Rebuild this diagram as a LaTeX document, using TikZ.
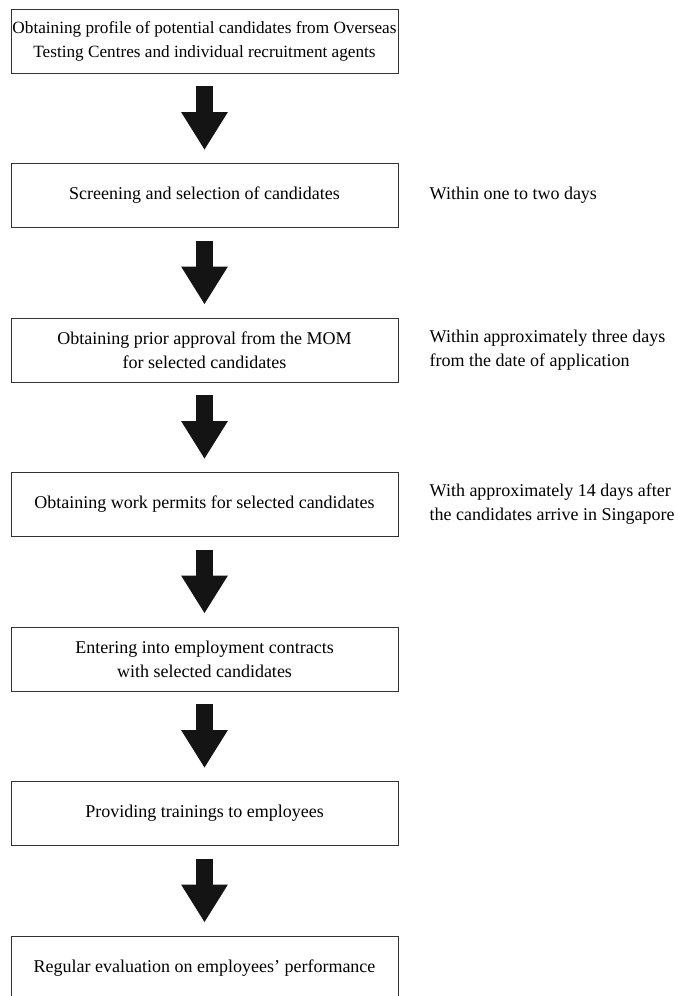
\documentclass[tikz,border=0pt]{standalone}
\usepackage{fontspec}
\setmainfont{Liberation Serif}
\usetikzlibrary{arrows.meta,positioning}

\begin{document}
\begin{tikzpicture}[x=0.75pt,y=-0.75pt,
  stepbox/.style={draw=black!80,line width=0.7pt,minimum width=290.25pt,minimum height=48pt,
    inner sep=0pt,align=center,font=\fontsize{13.5}{18}\selectfont},
  note/.style={anchor=west,inner sep=0pt,align=left,font=\fontsize{13.5}{18}\selectfont},
  bigarrow/.style={draw=black!92,line width=12.75pt,-{Triangle[width=33pt,length=28.5pt]},
    shorten <=9.75pt,shorten >=9.75pt}]
\useasboundingbox (0,0) rectangle (678,996);
\clip (0,0) rectangle (678,996);

%Step 1
\node[stepbox,font=\fontsize{12.9}{18}\selectfont] (step1) at (204.5,41) {Obtaining profile of potential candidates from Overseas\\Testing Centres and individual recruitment agents};

%Step 2
\node[stepbox] (step2) at (204.5,195.5) {Screening and selection of candidates};
\node[note,right=23.25pt of step2] (note2) {Within one to two days};

%Step 3
\node[stepbox] (step3) at (204.5,350) {Obtaining prior approval from the MOM\\for selected candidates};
\node[note,right=23.25pt of step3] (note3) {Within approximately three days\\from the date of application};

%Step 4
\node[stepbox] (step4) at (204.5,504.5) {Obtaining work permits for selected candidates};
\node[note,right=23.25pt of step4] (note4) {With approximately 14 days after\\the candidates arrive in Singapore};

%Step 5
\node[stepbox] (step5) at (204.5,659) {Entering into employment contracts\\with selected candidates};

%Step 6
\node[stepbox] (step6) at (204.5,813.5) {Providing trainings to employees};

%Step 7
\node[stepbox] (step7) at (204.5,968) {Regular evaluation on employees' performance};

%Arrows
\draw[bigarrow] (step1) -- (step2);
\draw[bigarrow] (step2) -- (step3);
\draw[bigarrow] (step3) -- (step4);
\draw[bigarrow] (step4) -- (step5);
\draw[bigarrow] (step5) -- (step6);
\draw[bigarrow] (step6) -- (step7);
\end{tikzpicture}
\end{document}
